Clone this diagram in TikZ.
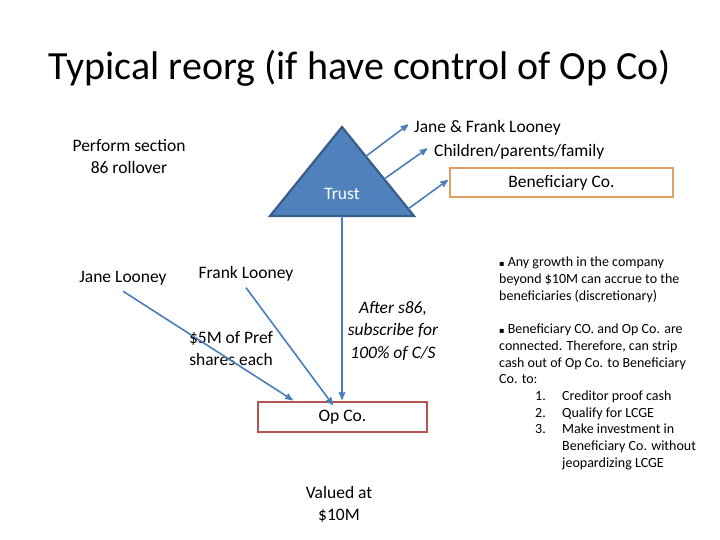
\documentclass[tikz,border=0pt]{standalone}
\usepackage{fontspec}
\setmainfont{Carlito}
\newfontfamily\symfont{DejaVu Sans}
\usetikzlibrary{arrows,positioning,calc}

\definecolor{trustblue}{RGB}{79,129,189}
\definecolor{trustedge}{RGB}{56,93,138}
\definecolor{linkblue}{RGB}{74,126,187}
\definecolor{benorange}{RGB}{228,158,98}
\definecolor{opred}{RGB}{184,84,80}

\begin{document}
\begin{tikzpicture}[
		x=1pt, y=-1pt,
		lbl/.style={font=\fontsize{17.5}{22}\selectfont, align=center, inner sep=0pt},
		link/.style={->,>=stealth',draw=linkblue,line width=1.6pt,shorten >=1pt},
		company/.style={draw, line width=2.8pt, fill=white, inner sep=0pt,
			font=\fontsize{17.5}{22}\selectfont}]

	\useasboundingbox (0,0) rectangle (720,540);

	% title
	\node[font=\fontsize{40}{46}\selectfont, inner sep=0pt] (title) at (360,68)
		{Typical reorg (if have control of Op Co)};

	% the trust
	\coordinate (apex) at (342,127);
	\coordinate (bl) at (270,216);
	\coordinate (br) at (414,216);
	\draw[fill=trustblue, draw=trustedge, line width=2.2pt, line join=miter]
		(apex) -- (br) -- (bl) -- cycle;
	\node[lbl, text=white] (trust) at (342,194) {Trust};
	\coordinate (base) at ($(bl)!0.5!(br)$);

	% beneficiaries
	\node[lbl, anchor=west] (janefrank) at (414,128) {Jane \& Frank Looney};
	\node[lbl, anchor=west] (family) at (434,152) {Children/parents/family};
	\node[company, draw=benorange, minimum width=223pt, minimum height=29pt]
		(benco) at (561.5,182.5) {Beneficiary Co.};

	\draw[link] ($(apex)!0.33!(br)$) -- ([xshift=-5pt,yshift=4pt]janefrank.west);
	\draw[link] ($(apex)!0.585!(br)$) -- ([xshift=-6pt,yshift=4pt]family.west);
	\draw[link] ($(apex)!0.92!(br)$) -- ([yshift=3pt]benco.west);

	% op co
	\node[company, draw=opred, minimum width=169pt, minimum height=30pt]
		(opco) at (342.5,417) {Op Co.};
	\draw[link] (base) -- (base |- opco.north);

	\node[lbl] (perform) at (129,157) {Perform section\\86 rollover};
	\node[lbl] (jane) at (123,278) {Jane Looney};
	\node[lbl] (frank) at (246,274) {Frank Looney};
	\node[lbl] (pref) at (231,349) {\$5M of Pref\\shares each};
	\node[lbl, font=\fontsize{17.5}{22.5}\itshape] (after) at (393,331)
		{After s86,\\subscribe for\\100\% of C/S};
	\node[lbl] (valued) at (339,504) {Valued at\\\$10M};

	\draw[link] ([yshift=-6pt]jane.south) -- ([xshift=-49pt]opco.north);
	\draw[link] ([yshift=-6pt]frank.south) -- ([xshift=-9pt,yshift=-5pt]opco.north);

	% notes
	\node[anchor=north west, align=left, inner sep=0pt,
		font=\fontsize{14}{16.7}\selectfont] (notes) at (499,257)
		{{\symfont\fontsize{8}{8}\selectfont ▪} Any growth in the company\\
		beyond \$10M can accrue to the\\
		beneficiaries (discretionary)\\[16.7pt]
		{\symfont\fontsize{8}{8}\selectfont ▪} Beneficiary CO. and Op Co. are\\
		connected. Therefore, can strip\\
		cash out of Op Co. to Beneficiary\\
		Co. to:\\
		\hspace*{36pt}\makebox[27pt][l]{1.}Creditor proof cash\\
		\hspace*{36pt}\makebox[27pt][l]{2.}Qualify for LCGE\\
		\hspace*{36pt}\makebox[27pt][l]{3.}Make investment in\\
		\hspace*{63pt}Beneficiary Co. without\\
		\hspace*{63pt}jeopardizing LCGE};
\end{tikzpicture}
\end{document}
